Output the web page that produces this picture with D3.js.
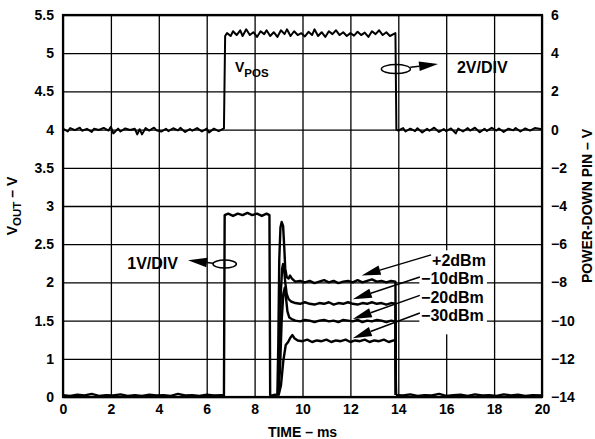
<!DOCTYPE html>
<html>
<head>
<meta charset="utf-8">
<script src="https://cdn.jsdelivr.net/npm/d3@7"></script>
<style>
	body { margin: 0; background: #fff; }
	svg { display: block; font-family: "Liberation Sans", Arial, Helvetica, sans-serif; font-weight: bold; }
</style>
</head>
<body>
<svg id="chart" width="595" height="439"></svg>
<script>
// tick labels
const timeTicks = [0, 2, 4, 6, 8, 10, 12, 14, 16, 18, 20];
const leftTicks = [0, 1, 1.5, 2, 2.5, 3, 3.5, 4, 4.5, 5, 5.5];
const rightTicks = [-14, -12, -10, -8, -6, -4, -2, 0, 2, 4, 6];

// V_POS trace (right axis, volts) [time ms, V]
const vposTrace = [
	[0, 0.05], [0.2, -0.1], [0.3, 0.08], [0.5, -0.03], [0.7, 0.1], [0.8, -0.06], [1.0, 0.04], [1.2, -0.12],
	[1.3, 0.05], [1.5, -0.02], [1.7, 0.09], [1.9, -0.05], [2.0, 0.15], [2.1, -0.2], [2.3, 0.05], [2.4, -0.1],
	[2.6, 0.06], [2.8, -0.02], [3.0, 0.04], [3.1, -0.25], [3.2, 0.02], [3.3, -0.25], [3.45, 0.08], [3.6, -0.05],
	[3.8, 0.1], [3.9, -0.03], [4.1, -0.1], [4.3, 0.04], [4.4, -0.08], [4.6, 0.07], [4.8, -0.04], [4.9, 0.09],
	[5.1, -0.12], [5.3, 0.03], [5.4, -0.06], [5.6, 0.08], [5.8, -0.1], [6.0, 0.05], [6.1, -0.15], [6.3, 0.05],
	[6.5, -0.08], [6.72, 0.06],
	[6.77, 4.9], [6.85, 5.05], [7.0, 4.9], [7.1, 5.15], [7.25, 4.95], [7.4, 5.2], [7.5, 4.9], [7.65, 5.25],
	[7.8, 4.95], [7.95, 5.1], [8.1, 4.85], [8.25, 5.15], [8.4, 5.0], [8.5, 5.2], [8.65, 4.9], [8.8, 5.1],
	[8.95, 4.85], [9.1, 5.2], [9.25, 5.0], [9.35, 5.25], [9.5, 4.9], [9.65, 5.15], [9.8, 4.95], [9.95, 5.05],
	[10.1, 4.88], [10.25, 5.12], [10.4, 4.95], [10.5, 5.25], [10.65, 4.9], [10.8, 5.1], [10.95, 4.85], [11.1, 5.15],
	[11.25, 5.0], [11.4, 5.2], [11.55, 4.95], [11.7, 5.1], [11.85, 4.9], [12.0, 5.05], [12.15, 4.92], [12.3, 5.12],
	[12.45, 4.95], [12.6, 5.08], [12.75, 4.85], [12.9, 5.15], [13.05, 5.0], [13.2, 5.2], [13.35, 4.95], [13.5, 5.1],
	[13.65, 4.9], [13.88, 5.05],
	[13.92, 0.0], [14.0, -0.05], [14.2, 0.08], [14.3, -0.1], [14.5, 0.05], [14.7, -0.08], [14.8, 0.07],
	[15.0, -0.15], [15.2, 0.04], [15.3, -0.06], [15.5, 0.1], [15.7, -0.12], [15.9, 0.03], [16.0, -0.08],
	[16.2, 0.06], [16.4, -0.2], [16.5, 0.05], [16.7, -0.1], [16.9, 0.08], [17.0, -0.05], [17.2, 0.1],
	[17.4, -0.14], [17.6, 0.04], [17.7, -0.07], [17.9, 0.09], [18.1, -0.05], [18.2, 0.06], [18.4, -0.12],
	[18.6, 0.05], [18.8, -0.04], [18.9, 0.08], [19.1, -0.1], [19.3, 0.06], [19.5, -0.05], [19.7, 0.08], [20, 0.02]
];

// V_OUT (left axis, volts) before the power-down pulse and after it
const voutStart = [
	[0, 0.05], [0.3, 0.03], [0.6, 0.06], [0.9, 0.04], [1.2, 0.08], [1.5, 0.03], [1.8, 0.05], [2.1, 0.04],
	[2.4, 0.07], [2.7, 0.03], [3.0, 0.05], [3.3, 0.03], [3.6, 0.06], [3.9, 0.04], [4.2, 0.05], [4.5, 0.03],
	[4.8, 0.08], [5.1, 0.04], [5.4, 0.05], [5.7, 0.03], [6.0, 0.06], [6.3, 0.04], [6.6, 0.05], [6.72, 0.04],
	[6.75, 2.88], [6.9, 2.9], [7.1, 2.87], [7.3, 2.9], [7.5, 2.88], [7.7, 2.91], [7.9, 2.88], [8.1, 2.9],
	[8.3, 2.87], [8.5, 2.9], [8.62, 2.88], [8.65, 0.05], [8.75, 0.04], [8.85, 0.06], [8.95, 0.04]
];
const voutEnd = [
	[13.9, 0.05], [14.2, 0.04], [14.5, 0.07], [14.8, 0.03], [15.1, 0.05], [15.4, 0.04], [15.7, 0.08],
	[16.0, 0.03], [16.3, 0.05], [16.6, 0.06], [16.9, 0.03], [17.2, 0.07], [17.5, 0.04], [17.8, 0.05],
	[18.1, 0.03], [18.4, 0.07], [18.7, 0.04], [19.0, 0.06], [19.3, 0.03], [19.6, 0.05], [20, 0.04]
];

// settling traces per input level
const plus2dBm = [
	[8.95, 0.04], [8.99, 1.2], [9.03, 2.3], [9.08, 2.72], [9.13, 2.79], [9.19, 2.74], [9.24, 2.45], [9.28, 2.18],
	[9.34, 2.07], [9.42, 2.05], [9.48, 2.09], [9.56, 2.05], [9.7, 2.01], [9.9, 2.02], [10.1, 2.0], [10.3, 2.02],
	[10.5, 1.99], [10.7, 2.01], [10.9, 2.03], [11.1, 2.0], [11.3, 2.02], [11.5, 1.99], [11.7, 2.01], [11.9, 2.02],
	[12.1, 2.0], [12.3, 2.03], [12.5, 2.0], [12.7, 2.02], [12.9, 2.04], [13.1, 2.01], [13.3, 2.02], [13.5, 2.0],
	[13.7, 2.02], [13.88, 2.01], [13.9, 0.05]
];
const minus10dBm = [
	[8.97, 0.04], [9.04, 1.0], [9.1, 1.9], [9.15, 2.18], [9.19, 2.24], [9.23, 2.18], [9.28, 2.0], [9.34, 1.85],
	[9.42, 1.78], [9.52, 1.75], [9.7, 1.73], [9.9, 1.72], [10.1, 1.74], [10.3, 1.72], [10.5, 1.71], [10.7, 1.73],
	[10.9, 1.72], [11.1, 1.74], [11.3, 1.71], [11.5, 1.73], [11.7, 1.72], [11.9, 1.74], [12.1, 1.72], [12.3, 1.71],
	[12.5, 1.73], [12.7, 1.72], [12.9, 1.74], [13.1, 1.72], [13.3, 1.73], [13.5, 1.71], [13.7, 1.73], [13.88, 1.72],
	[13.9, 0.05]
];
const minus20dBm = [
	[8.98, 0.04], [9.06, 0.7], [9.13, 1.5], [9.2, 1.85], [9.26, 1.93], [9.31, 1.8], [9.37, 1.62], [9.45, 1.54],
	[9.55, 1.52], [9.7, 1.5], [9.9, 1.49], [10.1, 1.51], [10.3, 1.5], [10.5, 1.48], [10.7, 1.5], [10.9, 1.51],
	[11.1, 1.49], [11.3, 1.5], [11.5, 1.48], [11.7, 1.51], [11.9, 1.5], [12.1, 1.49], [12.3, 1.51], [12.5, 1.48],
	[12.7, 1.5], [12.9, 1.49], [13.1, 1.51], [13.3, 1.5], [13.5, 1.48], [13.7, 1.5], [13.88, 1.49], [13.9, 0.05]
];
const minus30dBm = [
	[9.0, 0.04], [9.1, 0.3], [9.2, 0.95], [9.3, 1.18], [9.4, 1.22], [9.5, 1.28], [9.58, 1.31], [9.66, 1.27],
	[9.8, 1.24], [10.0, 1.23], [10.2, 1.25], [10.4, 1.22], [10.6, 1.24], [10.8, 1.23], [11.0, 1.25], [11.2, 1.22],
	[11.4, 1.24], [11.6, 1.23], [11.8, 1.25], [12.0, 1.22], [12.2, 1.24], [12.4, 1.23], [12.6, 1.25], [12.8, 1.22],
	[13.0, 1.24], [13.2, 1.23], [13.4, 1.25], [13.6, 1.22], [13.8, 1.24], [13.88, 1.23], [13.9, 0.05]
];

// level labels: text, label pos (t, V), arrow tail (t0, v0), arrow tip (t, V)
const levelLabels = [
	{ text: "+2dBm", t: 15.41, v: 2.29, t0: 15.37, v0: 2.36, tip: [12.47, 2.09] },
	{ text: "\u221210dBm", t: 14.95, v: 2.06, t0: 14.9, v0: 2.07, tip: [12.1, 1.78] },
	{ text: "\u221220dBm", t: 14.95, v: 1.81, t0: 14.9, v0: 1.83, tip: [12.1, 1.52] },
	{ text: "\u221230dBm", t: 14.95, v: 1.57, t0: 14.9, v0: 1.6, tip: [12.1, 1.27] }
];

const svg = d3.select("svg#chart");
const width = +svg.attr("width");
const height = +svg.attr("height");
const margin = { top: 15, right: 53, bottom: 42, left: 63 };
const chartWidth = width - margin.left - margin.right;
const chartHeight = height - margin.top - margin.bottom;

const chartArea = svg.append("g").attr("transform", `translate(${margin.left},${margin.top})`);

const x = d3.scaleLinear([0, 20], [0, chartWidth]);
const yRight = d3.scaleLinear([-14, 6], [chartHeight, 0]);
// left scale is broken: 0..1 over the first division, then 0.5 V per division
const yLeft = d3.scaleLinear([0, 1, 5.5], [chartHeight, chartHeight - chartHeight / 10, 0]);

// grid
chartArea.append("g")
	.attr("class", "grid")
	.attr("transform", `translate(0,${chartHeight})`)
	.call(d3.axisBottom(x).tickValues(timeTicks).tickSize(-chartHeight).tickFormat(""));
chartArea.append("g")
	.attr("class", "grid")
	.call(d3.axisLeft(yRight).tickValues(rightTicks).tickSize(-chartWidth).tickFormat(""));
chartArea.selectAll(".grid .domain").remove();
chartArea.selectAll(".grid line").attr("stroke", "#000").attr("stroke-width", 1.3);

// axes
const styleAxis = (g) => {
	g.attr("font-size", 14).attr("font-family", null);
	g.select(".domain").remove();
	g.selectAll("text").attr("fill", "#000");
};
chartArea.append("g")
	.attr("transform", `translate(0,${chartHeight})`)
	.call(d3.axisBottom(x).tickValues(timeTicks).tickSize(0).tickPadding(7))
	.call(styleAxis);
chartArea.append("g")
	.call(d3.axisLeft(yLeft).tickValues(leftTicks).tickSize(0).tickPadding(9).tickFormat((d) => d))
	.call(styleAxis);
chartArea.append("g")
	.attr("transform", `translate(${chartWidth},0)`)
	.call(d3.axisRight(yRight).tickValues(rightTicks).tickSize(0).tickPadding(9)
		.tickFormat((d) => (d < 0 ? "\u2212" + Math.abs(d) : d)))
	.call(styleAxis);

// traces
const lineLeft = d3.line().x((d) => x(d[0])).y((d) => yLeft(d[1]));
const lineRight = d3.line().x((d) => x(d[0])).y((d) => yRight(d[1]));

const traces = chartArea.append("g")
	.attr("fill", "none")
	.attr("stroke", "#000")
	.attr("stroke-linejoin", "round");
traces.append("path").attr("d", lineRight(vposTrace)).attr("stroke-width", 2);
[voutStart, plus2dBm, minus10dBm, minus20dBm, minus30dBm, voutEnd].forEach((tr) => {
	traces.append("path").attr("d", lineLeft(tr)).attr("stroke-width", 2.4);
});

// frame
chartArea.append("rect")
	.attr("width", chartWidth)
	.attr("height", chartHeight)
	.attr("fill", "none")
	.attr("stroke", "#000")
	.attr("stroke-width", 2.2);

// annotations
const notes = chartArea.append("g");
const arrow = (g, x1, y1, x2, y2) => {
	const L = 19, W = 4.8;
	const dx = x2 - x1, dy = y2 - y1, len = Math.hypot(dx, dy);
	const ux = dx / len, uy = dy / len;
	const bx = x2 - ux * L, by = y2 - uy * L;
	g.append("line")
		.attr("x1", x1).attr("y1", y1).attr("x2", bx).attr("y2", by)
		.attr("stroke", "#000").attr("stroke-width", 1.5);
	g.append("path")
		.attr("d", `M${x2},${y2}L${bx - uy * W},${by + ux * W}L${bx + uy * W},${by - ux * W}Z`)
		.attr("fill", "#000");
};

// V_POS label
const vposText = notes.append("text")
	.attr("x", x(7.18))
	.attr("y", yRight(3.03))
	.attr("font-size", 14);
vposText.append("tspan").text("V");
vposText.append("tspan").attr("font-size", 11.5).attr("dy", 5).text("POS");

// 2V/DIV marker
notes.append("ellipse")
	.attr("cx", x(13.9)).attr("cy", yRight(3.17))
	.attr("rx", 14.5).attr("ry", 4.5)
	.attr("fill", "none").attr("stroke", "#000").attr("stroke-width", 1.5);
arrow(notes, x(14.5), yRight(3.27), x(15.66), yRight(3.43));
notes.append("text")
	.attr("x", x(16.45)).attr("y", yRight(3.27)).attr("dy", "0.36em")
	.attr("font-size", 16).text("2V/DIV");

// 1V/DIV marker
notes.append("ellipse")
	.attr("cx", x(6.75)).attr("cy", yLeft(2.24))
	.attr("rx", 11.7).attr("ry", 4)
	.attr("fill", "none").attr("stroke", "#000").attr("stroke-width", 1.5);
arrow(notes, x(6.26), yLeft(2.25), x(5.22), yLeft(2.29));
notes.append("text")
	.attr("x", x(4.8)).attr("y", yLeft(2.25)).attr("dy", "0.36em")
	.attr("text-anchor", "end")
	.attr("font-size", 16).text("1V/DIV");

// level labels with white backing
notes.append("rect")
	.attr("x", x(14.88)).attr("y", yLeft(2.42))
	.attr("width", x(17.7) - x(14.88))
	.attr("height", yLeft(1.32) - yLeft(2.42))
	.attr("fill", "#fff");
levelLabels.forEach((d) => {
	arrow(notes, x(d.t0), yLeft(d.v0), x(d.tip[0]), yLeft(d.tip[1]));
	notes.append("text")
		.attr("x", x(d.t)).attr("y", yLeft(d.v)).attr("dy", "0.36em")
		.attr("font-size", 16).text(d.text);
});

// axis titles
svg.append("text")
	.attr("x", margin.left + chartWidth / 2)
	.attr("y", 437)
	.attr("text-anchor", "middle")
	.attr("font-size", 14)
	.text("TIME \u2013 ms");

const leftTitle = svg.append("text")
	.attr("transform", `translate(14,${margin.top + chartHeight / 2}) rotate(-90)`)
	.attr("text-anchor", "middle")
	.attr("dy", "0.2em")
	.attr("font-size", 14);
leftTitle.append("tspan").text("V");
leftTitle.append("tspan").attr("font-size", 11.5).attr("dy", 4).text("OUT");
leftTitle.append("tspan").attr("dy", -4).text(" \u2013 V");

svg.append("text")
	.attr("transform", `translate(587,${margin.top + chartHeight / 2}) rotate(-90)`)
	.attr("text-anchor", "middle")
	.attr("dy", "0.36em")
	.attr("font-size", 14)
	.text("POWER-DOWN PIN \u2013 V");
</script>
</body>
</html>
